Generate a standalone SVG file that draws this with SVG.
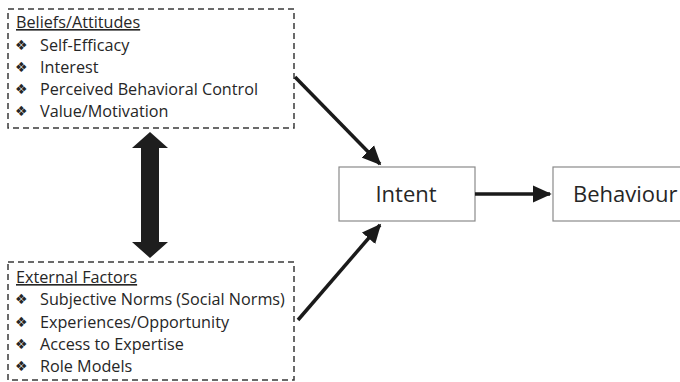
<svg xmlns="http://www.w3.org/2000/svg" width="680" height="382" viewBox="0 0 680 382">
<style>
.dash{fill:none;stroke:#3a3a3a;stroke-width:1.5;stroke-dasharray:6 4}
.box{fill:#fff;stroke:#8a8a8a;stroke-width:1.2}
.t{font-family:"Open Sans","Liberation Sans",sans-serif;font-size:16.2px;fill:#262626}
.h{text-decoration:underline}
.b{font-family:"DejaVu Sans",sans-serif;font-size:14px;fill:#262626}
.big{font-family:"Open Sans","Liberation Sans",sans-serif;font-size:22px;fill:#262626}
.con{stroke:#1a1a1a;stroke-width:3.5;fill:none}
</style>
<defs>
<marker id="ah" markerWidth="6" markerHeight="6" refX="5" refY="3" orient="auto" markerUnits="strokeWidth">
<path d="M0,0.5 L5.5,3 L0,5.5 Z" fill="#1a1a1a"/>
</marker>
</defs>
<rect width="680" height="382" fill="#fff"/>
<g id="beliefs">
<rect class="dash" x="8" y="9" width="286" height="119"/>
<text class="t h" x="16" y="28">Beliefs/Attitudes</text>
<text class="b" x="15" y="50">❖</text><text class="t" x="40" y="51">Self-Efficacy</text>
<text class="b" x="15" y="72">❖</text><text class="t" x="40" y="73">Interest</text>
<text class="b" x="15" y="94">❖</text><text class="t" x="40" y="95">Perceived Behavioral Control</text>
<text class="b" x="15" y="116">❖</text><text class="t" x="40" y="117">Value/Motivation</text>
</g>
<g id="external">
<rect class="dash" x="8" y="262" width="286" height="118"/>
<text class="t h" x="16" y="283">External Factors</text>
<text class="b" x="15" y="304">❖</text><text class="t" x="40" y="305">Subjective Norms (Social Norms)</text>
<text class="b" x="15" y="327">❖</text><text class="t" x="40" y="328">Experiences/Opportunity</text>
<text class="b" x="15" y="349">❖</text><text class="t" x="40" y="350">Access to Expertise</text>
<text class="b" x="15" y="371">❖</text><text class="t" x="40" y="372">Role Models</text>
</g>
<g id="intent">
<rect class="box" x="339" y="167" width="136" height="54"/>
<text class="big" x="406" y="202" text-anchor="middle">Intent</text>
</g>
<g id="behaviour">
<rect class="box" x="553" y="167" width="140" height="54"/>
<text class="big" x="573" y="202">Behaviour</text>
</g>
<g id="connectors">
<path d="M150,132 L168,148 L159,148 L159,242 L168,242 L150,258 L132,242 L141,242 L141,148 L132,148 Z" fill="#1e1e1e"/>
<line class="con" x1="295" y1="77" x2="380" y2="164" marker-end="url(#ah)"/>
<line class="con" x1="298" y1="320" x2="380" y2="225" marker-end="url(#ah)"/>
<line class="con" x1="475" y1="194" x2="550" y2="194" marker-end="url(#ah)"/>
</g>
</svg>
